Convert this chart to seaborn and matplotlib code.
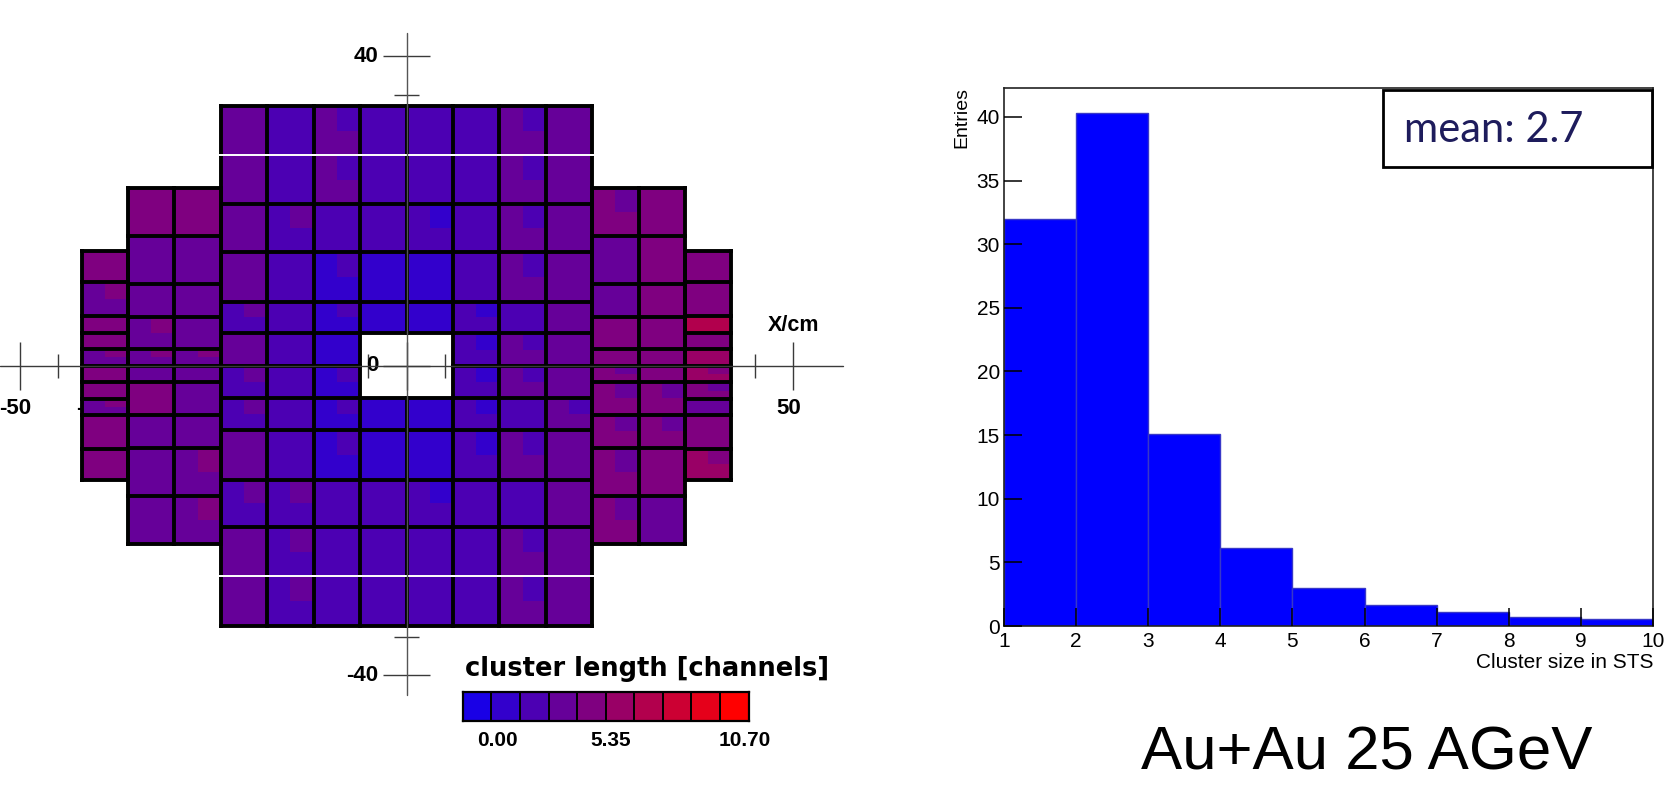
import numpy as np
import matplotlib
matplotlib.use("Agg")
import matplotlib.pyplot as plt
import seaborn as sns
from matplotlib.colors import ListedColormap
from matplotlib.collections import LineCollection
from matplotlib.patches import Rectangle
from matplotlib import font_manager

N = np.nan

# ---------------- data ----------------
palette_hex = ["#1900e6", "#3300cc", "#4c00b3", "#660099", "#7f0080",
               "#990066", "#b2004d", "#cc0033", "#e5001a", "#ff0000"]
cluster_min = 0.0
cluster_max = 10.70
colorbar_labels = ["0.00", "5.35", "10.70"]
colorbar_title = "cluster length [channels]"

# central block of sensors (x: -24..24 cm, 6 cm columns), rows top -> bottom
central_x_edges = [-24, -18, -12, -6, 0, 6, 12, 18, 24]
central_y_edges = [33.6, 27.2, 20.9, 14.7, 8.3, 4.2, 0.0, -4.2, -8.3, -14.7, -20.9, -27.2, -33.6]
central_white_edges = [27.2, -27.2]
central_value = [
    [3.7, 2.7, 3.7, 2.7, 2.7, 2.7, 3.7, 3.7],
    [3.7, 2.7, 3.7, 2.7, 2.7, 2.7, 3.7, 3.7],
    [3.7, 2.7, 2.7, 2.7, 2.7, 2.7, 3.7, 3.7],
    [3.7, 2.7, 1.6, 1.6, 1.6, 2.7, 3.7, 3.7],
    [2.7, 2.7, 1.6, 1.6, 1.6, 2.7, 2.7, 3.7],
    [3.7, 2.7, 1.6, N,   N,   2.7, 3.7, 3.7],
    [2.7, 2.7, 1.6, N,   N,   2.7, 3.7, 3.7],
    [2.7, 2.7, 1.6, 1.6, 1.6, 2.7, 2.7, 3.7],
    [3.7, 2.7, 1.6, 1.6, 1.6, 2.7, 3.7, 3.7],
    [2.7, 2.7, 2.7, 2.7, 2.7, 2.7, 2.7, 3.7],
    [3.7, 2.7, 2.7, 2.7, 2.7, 2.7, 3.7, 3.7],
    [3.7, 2.7, 2.7, 2.7, 2.7, 2.7, 3.7, 3.7],
]
central_corner = [
    [N, N, 2.7, N, N, N, 2.7, N],
    [N, N, 2.7, N, N, N, 2.7, N],
    [N, 3.7, N, N, 1.6, N, 2.7, N],
    [N, N, 2.7, N, N, N, 2.7, N],
    [3.7, N, 2.7, N, N, 1.6, N, N],
    [N, N, N, N, N, 1.6, 2.7, N],
    [3.7, N, 2.7, N, N, 1.6, 2.7, N],
    [3.7, N, 2.7, N, N, 1.6, N, 2.7],
    [N, N, 2.7, N, N, 1.6, 2.7, N],
    [3.7, 3.7, N, N, 1.6, N, N, N],
    [N, 3.7, N, N, N, N, 2.7, N],
    [N, 3.7, N, N, N, N, 2.7, N],
]

# middle groups (two 6 cm columns on each side)
middle_y_edges = [23.0, 16.8, 10.6, 6.3, 2.2, 0.0, -2.1, -6.3, -10.6, -16.8, -23.0]
left_mid_x_edges = [-36, -30, -24]
left_mid_value = [[4.8, 4.8], [3.7, 3.7], [3.7, 3.7], [3.7, 3.7], [3.7, 3.7],
                  [3.7, 3.7], [4.8, 3.7], [3.7, 3.7], [3.7, 3.7], [3.7, 3.7]]
left_mid_corner = [[N, N], [N, N], [N, N], [4.8, N], [4.8, 4.8],
                   [N, N], [N, N], [N, N], [N, 4.8], [N, 4.8]]
right_mid_x_edges = [24, 30, 36]
right_mid_value = [[4.8, 4.8], [3.7, 4.8], [3.7, 4.8], [4.8, 4.8], [4.8, 4.8],
                   [4.8, 4.8], [4.8, 4.8], [4.8, 4.8], [4.8, 4.8], [4.8, 3.7]]
right_mid_corner = [[3.7, N], [N, N], [N, N], [N, N], [N, N],
                    [3.7, N], [3.7, 3.7], [3.7, 3.7], [3.7, N], [3.7, N]]

# outer columns
outer_y_edges = [14.9, 10.8, 6.4, 4.3, 2.2, 0.0, -2.1, -4.3, -6.4, -10.7, -14.8]
left_out_x_edges = [-42, -36]
left_out_value = [4.8, 3.7, 4.8, 4.8, 3.7, 4.8, 4.8, 3.7, 4.8, 4.8]
left_out_corner = [N, 4.8, N, N, 4.8, N, N, 4.8, N, N]
right_out_x_edges = [36, 42]
right_out_value = [4.8, 4.8, 7.0, 4.8, 5.9, 5.9, 4.8, 3.7, 4.8, 5.9]
right_out_corner = [N, N, N, N, N, 4.8, 3.7, N, N, 4.8]

# map axes
map_x_ticks = list(range(-50, 51, 5))
map_y_ticks = list(range(-40, 41, 5))
map_x_title = "X/cm"

# histogram
hist_edges = [1, 2, 3, 4, 5, 6, 7, 8, 9, 10]
hist_entries = [32.0, 40.3, 15.1, 6.15, 3.0, 1.67, 1.09, 0.73, 0.57]
hist_yticks = [0, 5, 10, 15, 20, 25, 30, 35, 40]
hist_xlabel = "Cluster size in STS"
hist_ylabel = "Entries"
mean_text = "mean: 2.7"
caption = "Au+Au 25 AGeV"

# ---------------- style ----------------
sns.set_theme(style="white")
plt.rcParams["font.family"] = ["Liberation Sans", "DejaVu Sans"]
plt.rcParams["text.color"] = "black"
names = {f.name for f in font_manager.fontManager.ttflist}
NARROW = "Liberation Sans Narrow" if "Liberation Sans Narrow" in names else "Liberation Sans"
GILL = "Lato" if "Lato" in names else "DejaVu Sans"

W, H = 1672, 785
fig = plt.figure(figsize=(W / 100, H / 100), dpi=100, facecolor="white")

cmap = ListedColormap(palette_hex)
bounds = np.linspace(cluster_min, cluster_max, len(palette_hex) + 1)


def refine(edges):
    e = np.asarray(edges, float)
    out = np.empty(2 * len(e) - 1)
    out[0::2] = e
    out[1::2] = (e[:-1] + e[1:]) / 2
    return out


def draw_group(ax, xe, ye, value, corner, white_edges=()):
    base = np.asarray(value, float)
    corn = np.asarray(corner, float)
    if base.ndim == 1:
        base = base[:, None]
        corn = corn[:, None]
    m, n = base.shape
    fine = np.repeat(np.repeat(base, 2, axis=0), 2, axis=1)
    tr = fine[0::2, 1::2]
    fine[0::2, 1::2] = np.where(np.isnan(corn), tr, corn)
    ax.pcolormesh(refine(xe), refine(ye), np.ma.masked_invalid(fine), cmap=cmap,
                  vmin=cluster_min, vmax=cluster_max, shading="flat",
                  edgecolors="none", antialiased=False, zorder=2)
    filled = ~np.isnan(base)
    segs_k, segs_w = [], []
    for k in range(m + 1):
        for j in range(n):
            up = filled[k - 1, j] if k > 0 else False
            dn = filled[k, j] if k < m else False
            if up or dn:
                seg = [(xe[j], ye[k]), (xe[j + 1], ye[k])]
                if up and dn and any(np.isclose(ye[k], w) for w in white_edges):
                    segs_w.append([(xe[j] - 0.3, ye[k]), (xe[j + 1] + 0.3, ye[k])])
                else:
                    segs_k.append(seg)
    for j in range(n + 1):
        for i in range(m):
            lf = filled[i, j - 1] if j > 0 else False
            rt = filled[i, j] if j < n else False
            if lf or rt:
                segs_k.append([(xe[j], ye[i]), (xe[j], ye[i + 1])])
    ax.add_collection(LineCollection(segs_k, colors="black", linewidths=2.8,
                                     capstyle="projecting", zorder=3))
    if segs_w:
        ax.add_collection(LineCollection(segs_w, colors="white", linewidths=1.4, zorder=3.5))


# ---------------- left: detector map ----------------
PX = 7.735
CX, CY = 406.5, 365.8
ax1 = fig.add_axes([0, 0, 880 / W, 1])
ax1.set_xlim(-CX / PX, (880 - CX) / PX)
ax1.set_ylim(-(H - CY) / PX, CY / PX)
ax1.axis("off")

draw_group(ax1, central_x_edges, central_y_edges, central_value, central_corner,
           central_white_edges)
draw_group(ax1, left_mid_x_edges, middle_y_edges, left_mid_value, left_mid_corner)
draw_group(ax1, right_mid_x_edges, middle_y_edges, right_mid_value, right_mid_corner)
draw_group(ax1, left_out_x_edges, outer_y_edges, left_out_value, left_out_corner)
draw_group(ax1, right_out_x_edges, outer_y_edges, right_out_value, right_out_corner)

# ROOT-like crossing axes
axis_col = "#3a3a3a"
tick_segs = []
for x in map_x_ticks:
    h = 3.1 if x % 10 == 0 else 1.55
    tick_segs.append([(x, -h), (x, h)])
for y in map_y_ticks:
    h = 3.1 if y % 10 == 0 else 1.6
    tick_segs.append([(-h, y), (h, y)])
ax1.add_collection(LineCollection(tick_segs, colors=axis_col, linewidths=1.0, zorder=1))
lab_kw = dict(fontsize=16, fontweight="bold", color="black", zorder=1)
for x in map_x_ticks:
    if x % 10 == 0:
        ax1.text(x - 0.6, -5.5, f"{x}", ha="center", va="center", **lab_kw)
for y in map_y_ticks:
    if y % 10 == 0:
        ax1.text(-3.6, y, f"{y}", ha="right", va="center", **lab_kw)
ax1.plot([-CX / PX, 56.4], [0, 0], color=axis_col, lw=1.0, zorder=4)
ax1.plot([0, 0], [-42.5, 43.0], color="#555555", lw=1.0, zorder=4)
ax1.text(50.0, 5.2, map_x_title, ha="center", va="center", fontsize=15.5,
         fontweight="bold", zorder=1)

# colour scale (seaborn heatmap of the palette levels)
cax = fig.add_axes([462.8 / W, 1 - 720.5 / H, (748.6 - 462.8) / W, (720.5 - 692.0) / H])
level_mid = (bounds[:-1] + bounds[1:]) / 2
sns.heatmap(level_mid[None, :], cmap=cmap, vmin=cluster_min, vmax=cluster_max,
            cbar=False, linewidths=1.2, linecolor="black",
            xticklabels=False, yticklabels=False, ax=cax)
for s in cax.spines.values():
    s.set_visible(True)
    s.set_color("black")
    s.set_linewidth(1.6)
fig.text(465 / W, 1 - 676 / H, colorbar_title, ha="left", va="baseline",
         fontsize=18.5, fontweight="bold", family=["DejaVu Sans"], color="black")
for lab, xp in zip(colorbar_labels, [497, 610.5, 745]):
    fig.text(xp / W, 1 - 741 / H, lab, ha="center", va="center", fontsize=15,
             fontweight="bold", color="black")

# ---------------- right: histogram ----------------
ax2 = fig.add_axes([1004 / W, 1 - 626 / H, (1653 - 1004) / W, (626 - 88.3) / H])
centers = (np.array(hist_edges[:-1]) + np.array(hist_edges[1:])) / 2
sns.histplot(x=centers, weights=hist_entries, bins=hist_edges, color="#0000ff",
             alpha=1.0, edgecolor="#3838c8", linewidth=1.0, ax=ax2)
ax2.set_xlim(hist_edges[0], hist_edges[-1])
ax2.set_ylim(0, 42.25)
ax2.set_xlabel("")
ax2.set_ylabel("")
ax2.set_xticks(hist_edges)
ax2.set_yticks(hist_yticks)
ax2.set_axisbelow(False)
ax2.tick_params(axis="both", direction="in", length=13, width=1.1, color="black",
                labelsize=15, labelcolor="black", bottom=True, left=True,
                top=False, right=False, labelfontfamily=NARROW)
ax2.tick_params(axis="x", pad=4)
ax2.tick_params(axis="y", pad=3)
for s in ax2.spines.values():
    s.set_visible(True)
    s.set_color("#222222")
    s.set_linewidth(1.2)

fig.text(962 / W, 1 - 87 / H, hist_ylabel, rotation=90, ha="center", va="top",
         fontsize=14, color="black")
fig.text(1653 / W, 1 - 662 / H, hist_xlabel, ha="right", va="center",
         fontsize=15, family=[NARROW], color="black")

box = Rectangle((1383 / W, 1 - 167 / H), (1652 - 1383) / W, (167 - 89.5) / H,
                transform=fig.transFigure, facecolor="white", edgecolor="black",
                linewidth=2.0, zorder=5)
fig.add_artist(box)
fig.text(1404 / W, 1 - 141.5 / H, mean_text, ha="left", va="baseline",
         fontsize=30, color="#1e1c5c", family=[GILL], zorder=6)

fig.text(1141 / W, 2 / H, caption, ha="left", va="bottom", fontsize=44.5,
         color="black")

fig.savefig("out.png", dpi=100, facecolor="white")
